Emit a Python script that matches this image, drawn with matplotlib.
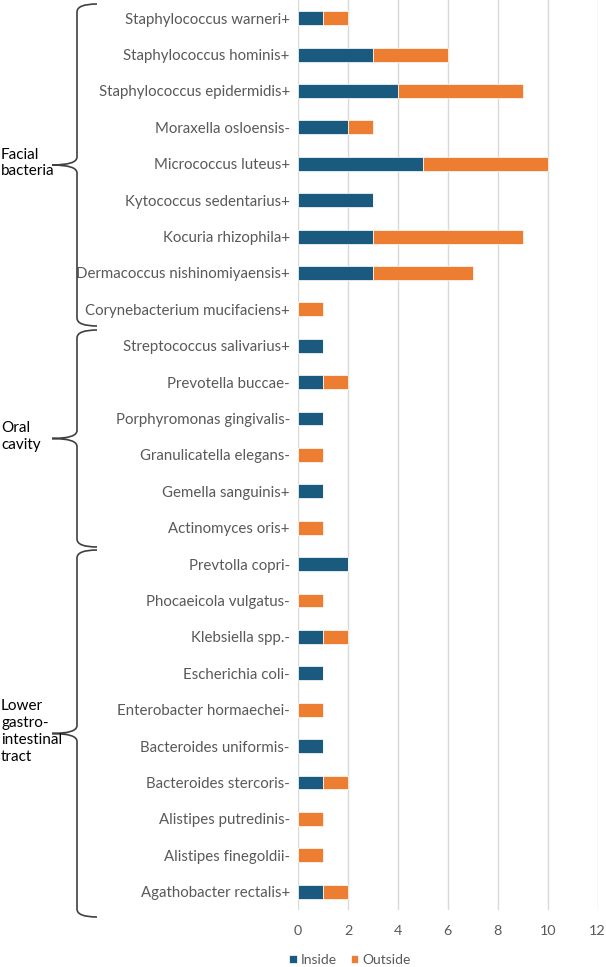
import matplotlib
matplotlib.use("Agg")
import matplotlib.pyplot as plt
from matplotlib.path import Path
from matplotlib.patches import PathPatch
import numpy as np

plt.rcParams['font.family'] = ['Lato', 'DejaVu Sans']

# Data, top to bottom
species = [
    "Staphylococcus warneri+", "Staphylococcus hominis+", "Staphylococcus epidermidis+",
    "Moraxella osloensis-", "Micrococcus luteus+", "Kytococcus sedentarius+",
    "Kocuria rhizophila+", "Dermacoccus nishinomiyaensis+", "Corynebacterium mucifaciens+",
    "Streptococcus salivarius+", "Prevotella buccae-", "Porphyromonas gingivalis-",
    "Granulicatella elegans-", "Gemella sanguinis+", "Actinomyces oris+",
    "Prevtolla copri-", "Phocaeicola vulgatus-", "Klebsiella spp.-",
    "Escherichia coli-", "Enterobacter hormaechei-", "Bacteroides uniformis-",
    "Bacteroides stercoris-", "Alistipes putredinis-", "Alistipes finegoldii-",
    "Agathobacter rectalis+",
]
inside = [1, 3, 4, 2, 5, 3, 3, 3, 0,
          1, 1, 1, 0, 1, 0,
          2, 0, 1, 1, 0, 1, 1, 0, 0, 1]
outside = [1, 3, 5, 1, 5, 0, 6, 4, 1,
           0, 1, 0, 1, 0, 1,
           0, 1, 1, 0, 1, 0, 1, 1, 1, 1]
groups = [("Facial\nbacteria", 9), ("Oral\ncavity", 6),
          ("Lower\ngastro-\nintestinal\ntract", 10)]

c_in = "#1a5a7e"
c_out = "#ed7d31"
gray = "#595959"

fig = plt.figure(figsize=(6.06, 9.67), dpi=100)
ax = fig.add_axes([0.492, 0.059, 0.494, 0.941])

y = np.arange(len(species))
ax.barh(y, inside, height=0.38, color=c_in, edgecolor="white", linewidth=0.5, label="Inside")
ax.barh(y, outside, left=inside, height=0.38, color=c_out, edgecolor="white", linewidth=0.5, label="Outside")

ax.set_ylim(len(species) - 0.5, -0.5)
ax.set_xlim(0, 12)
ax.set_xticks(range(0, 13, 2))
ax.set_yticks(y)
ax.set_yticklabels(species)
ax.tick_params(axis="both", length=0, colors=gray, labelsize=10.8)
ax.tick_params(axis="x", pad=11, labelsize=10.3)
ax.tick_params(axis="y", pad=6)
for s in ax.spines.values():
    s.set_visible(False)
ax.grid(axis="x", color="#d9d9d9", linewidth=1)
ax.set_axisbelow(True)

fig.legend(loc="center", bbox_to_anchor=(350 / 606, 1 - 960 / 967), ncol=2,
           frameon=False, fontsize=10, handlelength=0.55, handleheight=0.55,
           handletextpad=0.3, columnspacing=1.0, labelcolor=gray)


# curly braces in figure pixel coords
def brace(y0, y1, x_end=97, x_v=77, x_tip=52):
    H = 967.0
    ym = (y0 + y1) / 2
    r = 8
    pts = [(x_end, y0), (x_v, y0), (x_v, y0 + r),
           (x_v, ym - r), (x_v, ym), (x_tip, ym),
           (x_v, ym), (x_v, ym + r),
           (x_v, y1 - r), (x_v, y1), (x_end, y1)]
    codes = [Path.MOVETO, Path.CURVE3, Path.CURVE3,
             Path.LINETO, Path.CURVE3, Path.CURVE3,
             Path.CURVE3, Path.CURVE3,
             Path.LINETO, Path.CURVE3, Path.CURVE3]
    pts = [(px / 606.0, 1 - py / H) for px, py in pts]
    p = PathPatch(Path(pts, codes), transform=fig.transFigure, fill=False,
                  edgecolor="#404040", linewidth=1.2)
    fig.add_artist(p)
    return ym


bounds = [(4, 326), (330, 547), (550, 917)]
for (label, n), (b0, b1) in zip(groups, bounds):
    ym = brace(b0, b1)
    fig.text(1 / 606, 1 - (ym - 2) / 967, label, ha="left", va="center",
             fontsize=11, color="black", linespacing=1.25)

fig.savefig("out.png", dpi=100)
